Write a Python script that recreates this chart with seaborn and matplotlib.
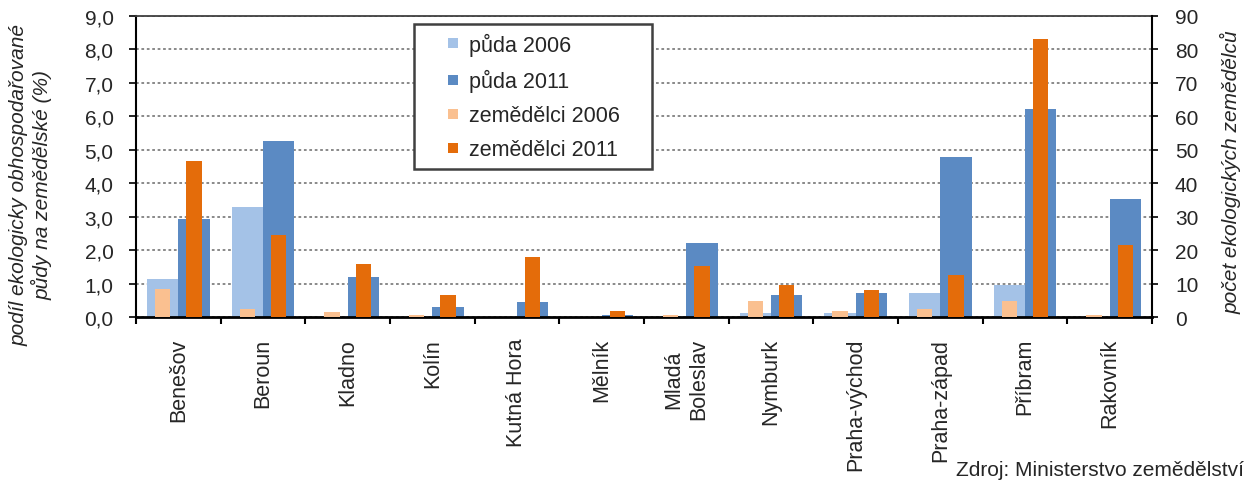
import matplotlib
matplotlib.use("Agg")
import matplotlib.pyplot as plt
import seaborn as sns
import pandas as pd
import numpy as np
from matplotlib.patches import Rectangle
from matplotlib.legend_handler import HandlerPatch
from matplotlib.ticker import FuncFormatter

# ---------------- data ----------------
districts = ["Benešov", "Beroun", "Kladno", "Kolín", "Kutná Hora", "Mělník",
             "Mladá\nBoleslav", "Nymburk", "Praha-východ", "Praha-západ",
             "Příbram", "Rakovník"]
puda_2006 = [1.14, 3.30, 0.0, 0.0, 0.0, 0.0, 0.0, 0.11, 0.11, 0.72, 0.97, 0.0]
puda_2011 = [2.93, 5.26, 1.20, 0.30, 0.44, 0.05, 2.20, 0.66, 0.72, 4.79, 6.22, 3.52]
zem_2006 = [8.5, 2.3, 1.6, 0.5, 0.0, 0.0, 0.5, 4.8, 1.7, 2.3, 4.8, 0.5]
zem_2011 = [46.5, 24.6, 15.7, 6.6, 18.0, 1.7, 15.2, 9.6, 8.0, 12.6, 83.0, 21.5]
years = ["2006", "2011"]
legend_labels = ["půda 2006", "půda 2011", "zemědělci 2006", "zemědělci 2011"]
left_ticks = [0, 1, 2, 3, 4, 5, 6, 7, 8, 9]
right_ticks = [0, 10, 20, 30, 40, 50, 60, 70, 80, 90]

c_p06, c_p11 = "#A4C2E7", "#5B8AC3"
c_z06, c_z11 = "#FAC090", "#E46C0A"

df_puda = pd.DataFrame({
    "district": districts * 2,
    "year": ["2006"] * len(districts) + ["2011"] * len(districts),
    "value": puda_2006 + puda_2011,
})
df_zem = pd.DataFrame({
    "district": districts * 2,
    "year": ["2006"] * len(districts) + ["2011"] * len(districts),
    "value": zem_2006 + zem_2011,
})

# ---------------- style ----------------
sns.set_style("white")
plt.rcParams["font.family"] = ["Liberation Sans", "DejaVu Sans"]
FS = 15
FS_L = 15.5

fig = plt.figure(figsize=(12.49, 4.81), dpi=100)
ax1 = fig.add_axes([136 / 1249, 1 - 318 / 481, (1152 - 136) / 1249, (318 - 17) / 481])

sns.barplot(data=df_puda, x="district", y="value", hue="year", order=districts,
            hue_order=years, palette=[c_p06, c_p11], width=0.74, dodge=True,
            saturation=1, legend=False, ax=ax1, errorbar=None, zorder=2,
            linewidth=0, edgecolor="none")
ax2 = ax1.twinx()
sns.barplot(data=df_zem, x="district", y="value", hue="year", order=districts,
            hue_order=years, palette=[c_z06, c_z11], width=0.74, dodge=True,
            gap=0.52, saturation=1, legend=False, ax=ax2, errorbar=None, zorder=3,
            linewidth=0, edgecolor="none")

ax1.set_ylim(0, 9)
ax2.set_ylim(0, 90)
ax1.set_xlim(-0.5, len(districts) - 0.5)
ax2.set_xlim(-0.5, len(districts) - 0.5)

ax1.set_yticks(left_ticks)
ax1.yaxis.set_major_formatter(FuncFormatter(lambda v, p: f"{v:.1f}".replace(".", ",")))
ax2.set_yticks(right_ticks)
ax2.set_yticklabels([str(t) for t in right_ticks])

ax1.set_xticks(np.arange(-0.5, len(districts), 1.0))
ax1.set_xticklabels([""] * (len(districts) + 1))
ax1.set_xticks(np.arange(len(districts)), minor=True)
ax1.set_xticklabels(districts, minor=True, rotation=90, fontsize=FS_L,
                    multialignment="center")
ax1.tick_params(axis="x", which="major", direction="out", length=5.3, width=1.5,
                color="black", bottom=True)
ax1.tick_params(axis="x", which="minor", length=0, pad=15, bottom=True)
ax1.tick_params(axis="y", which="major", direction="out", length=5.4, width=1.2,
                color="black", labelsize=FS, pad=10.8, left=True)
ax2.tick_params(axis="y", which="major", direction="out", length=4.3, width=1.2,
                color="black", labelsize=FS, pad=12.2, right=True)

ax1.set_xlabel("")
ax1.set_ylabel("")
ax2.set_ylabel("")

ax1.yaxis.grid(True, linestyle=(0, (1.5, 1.5)), color="#808080", linewidth=1.3)
ax1.set_axisbelow(True)

for s in ["left", "bottom"]:
    ax1.spines[s].set_color("black")
ax1.spines["left"].set_linewidth(1.5)
ax1.spines["bottom"].set_linewidth(2.0)
ax1.spines["right"].set_visible(False)
ax1.spines["top"].set_color("#404040")
ax1.spines["top"].set_linewidth(1.3)
for s in ["left", "bottom", "top"]:
    ax2.spines[s].set_visible(False)
ax2.spines["right"].set_color("black")
ax2.spines["right"].set_linewidth(1.5)


# ---------------- legend ----------------
class SquareHandler(HandlerPatch):
    def create_artists(self, legend, orig_handle, xdescent, ydescent, width,
                       height, fontsize, trans):
        size = 7.2
        x = width - 3.6 - size - xdescent
        y = height / 2 - size / 2 - ydescent
        r = Rectangle((x, y), size, size, facecolor=orig_handle.get_facecolor(),
                      edgecolor="none", transform=trans)
        return [r]


handles = [Rectangle((0, 0), 1, 1, facecolor=c) for c in [c_p06, c_p11, c_z06, c_z11]]
leg = ax2.legend(handles, legend_labels, loc="upper left",
                 bbox_to_anchor=(0.2736, 0.45, 0.2343, 0.523), mode="expand",
                 borderaxespad=0, fontsize=FS_L, frameon=True, fancybox=False,
                 framealpha=1, borderpad=0.4, labelspacing=0.61,
                 handlelength=1.9, handletextpad=0.24,
                 handler_map={Rectangle: SquareHandler()})
leg.get_frame().set_edgecolor("#404040")
leg.get_frame().set_linewidth(1.8)

# ---------------- axis titles & source ----------------
fig.text(31 / 1249, 1 - 185 / 481,
         "podíl ekologicky obhospodařované\npůdy na zemědělské (%)",
         rotation=90, ha="center", va="center", multialignment="center",
         fontsize=FS, style="italic")
fig.text(1231 / 1249, 1 - 172 / 481, "počet ekologických zemědělců",
         rotation=90, ha="center", va="center", fontsize=FS, style="italic")
fig.text(956 / 1249, 1 - 461 / 481, "Zdroj: Ministerstvo zemědělství",
         ha="left", va="top", fontsize=FS)

fig.savefig("out.png", dpi=100)
